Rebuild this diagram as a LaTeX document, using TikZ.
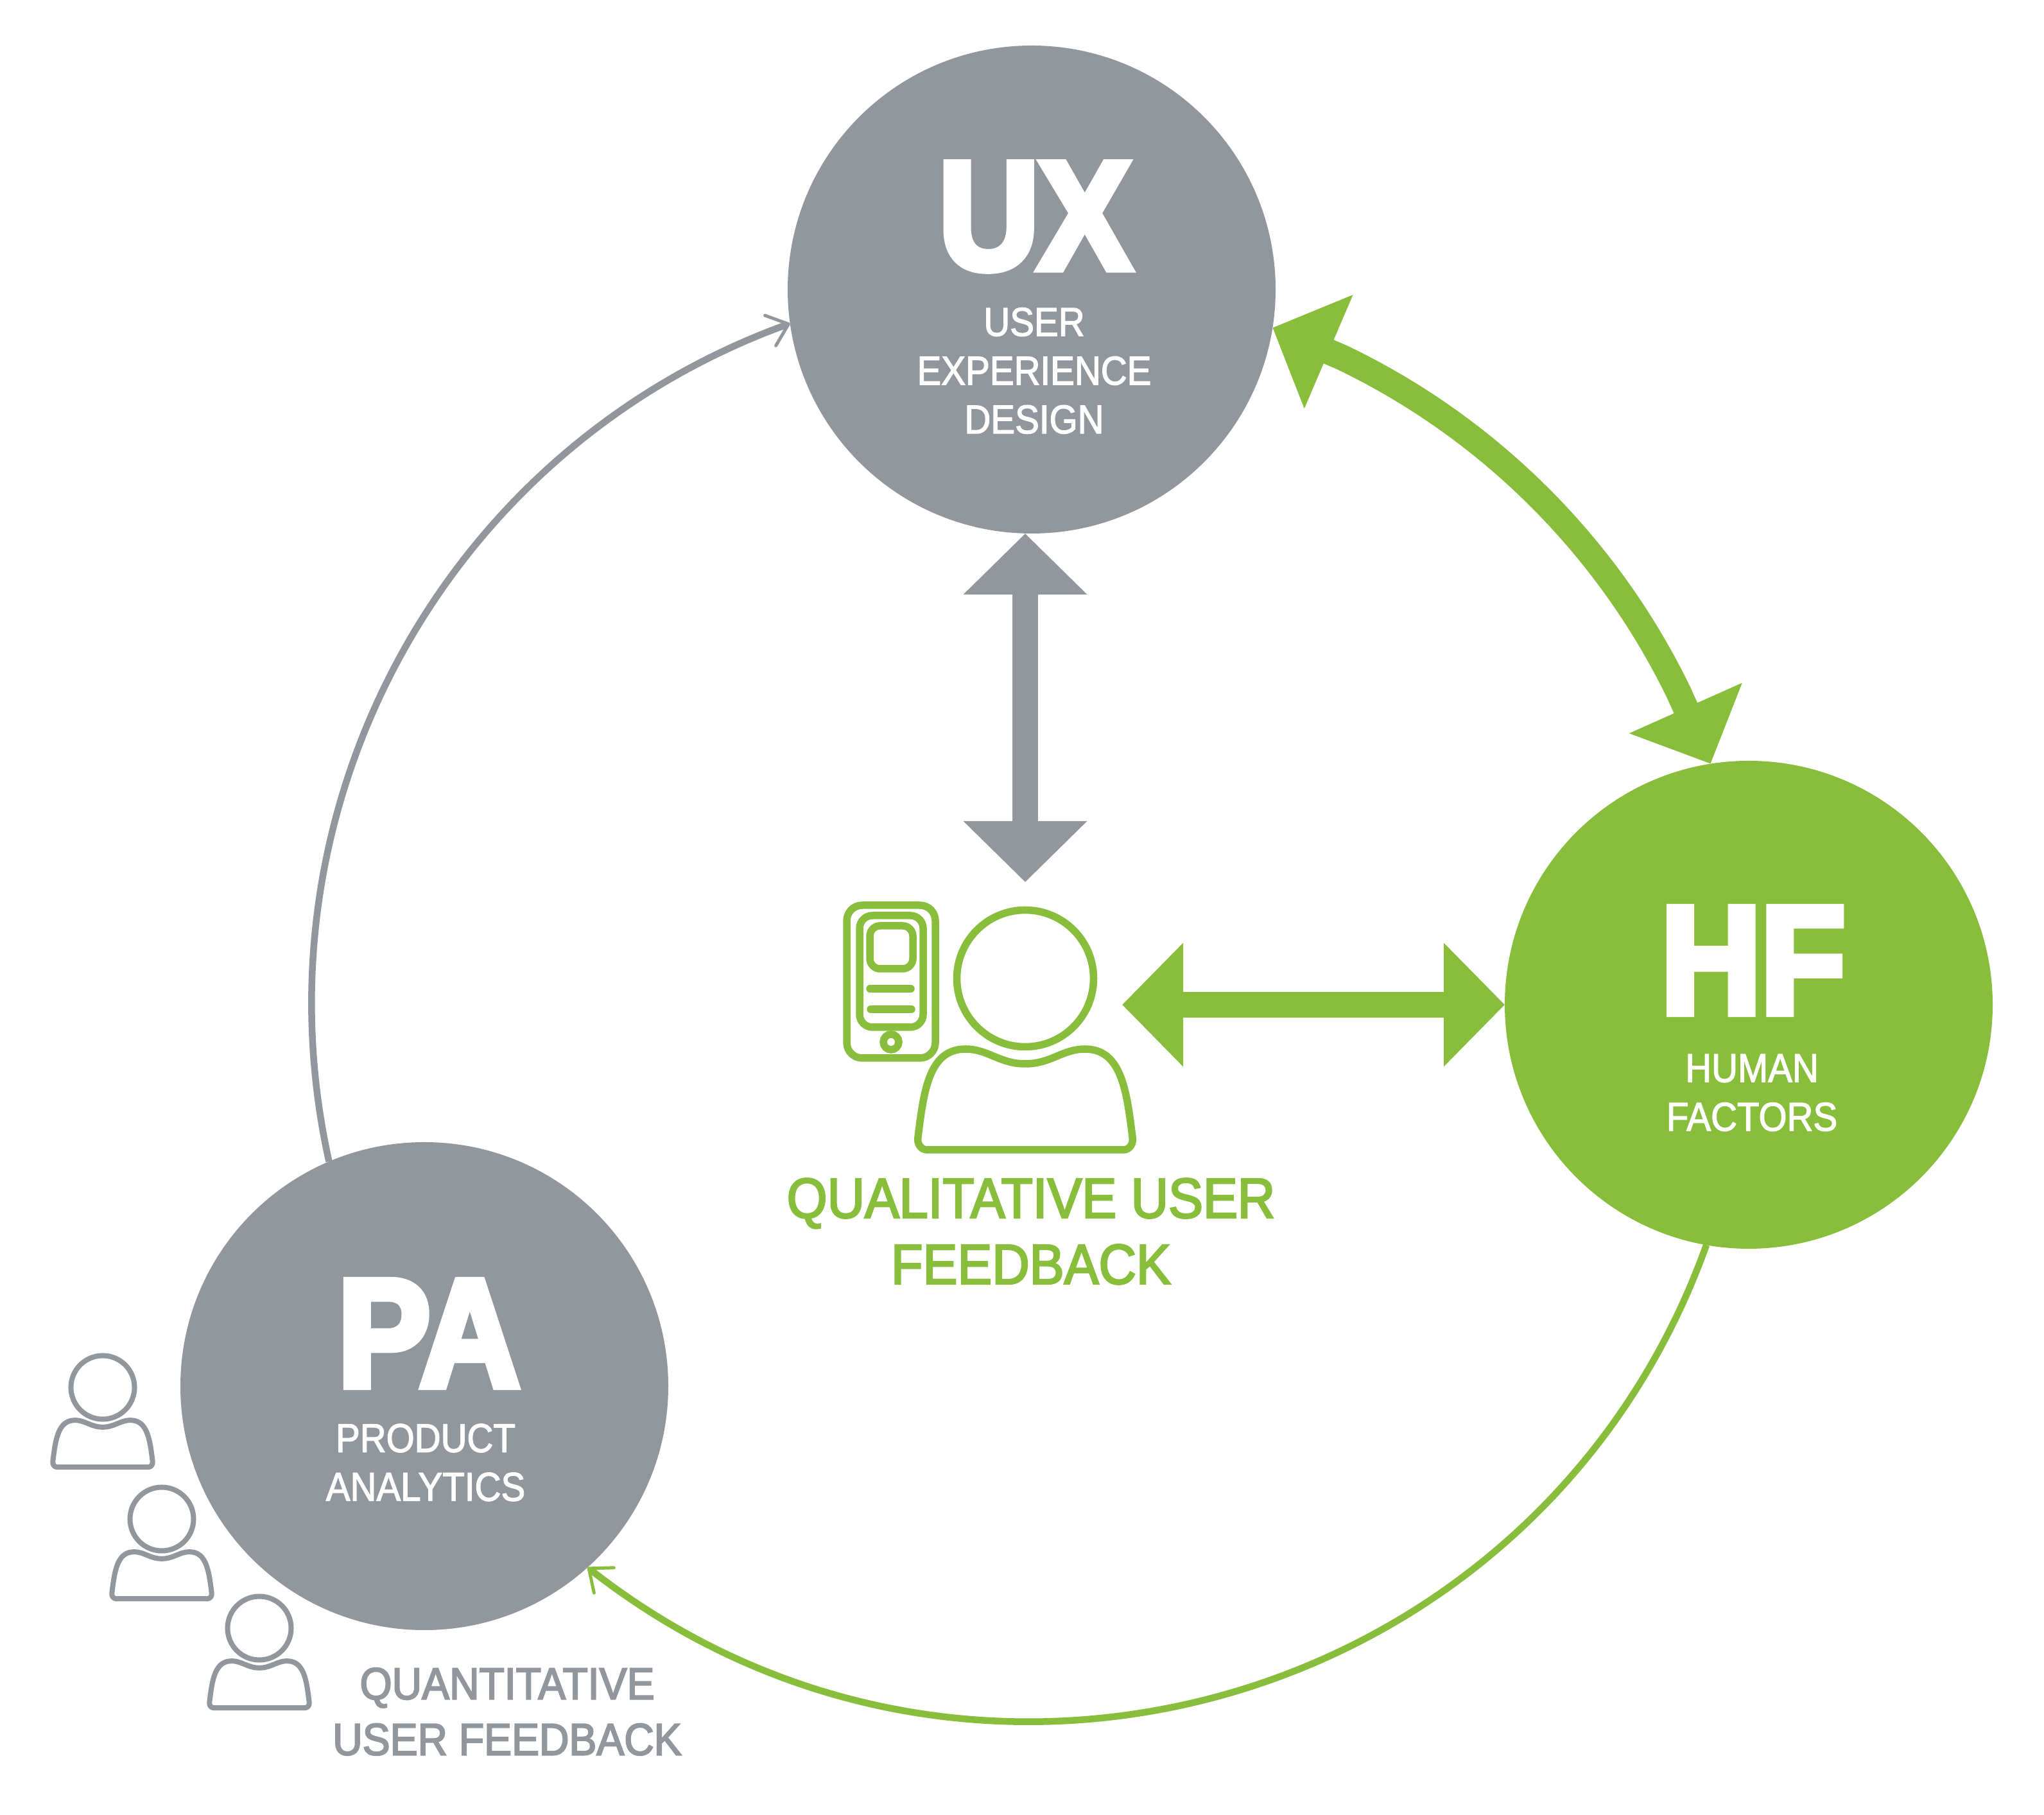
\documentclass[tikz,border=0pt]{standalone}
\usepackage{fontspec}
\setmainfont{Liberation Sans}[FakeStretch=0.9,FakeBold=2]
\newfontfamily\midfont{Liberation Sans}[FakeStretch=0.92,FakeBold=3]
\newfontfamily\heavyfont{Liberation Sans Bold}[FakeStretch=0.9,FakeBold=5]
\usetikzlibrary{arrows.meta}
\definecolor{usrgray}{RGB}{146,151,157}
\definecolor{usrgreen}{RGB}{136,190,60}
\tikzset{
    bigcircle/.style={circle,minimum size=7.6cm,inner sep=0pt,outer sep=0pt},
    bigtitle/.style={text=white,font=\heavyfont\fontsize{68}{68}\selectfont},
    subtitle/.style={text=white,align=center,inner sep=0pt,font=\fontsize{17.9}{21.6}\selectfont},
    widelink/.style={line width=.4cm,line join=round,{Triangle[length=.95cm,width=1.87cm]}-{Triangle[length=.95cm,width=1.87cm]}},
    thinlink/.style={line width=.105cm,-{Straight Barb[length=.3cm,width=.5cm,line width=.05cm,round]}},
    person/.pic={
        \draw (0,0) circle (1.065);
        \draw[line join=round] (-1.53,-2.67) .. controls (-1.62,-2.67) and (-1.69,-2.58) .. (-1.67,-2.47)
            .. controls (-1.58,-1.75) and (-1.50,-1.10) .. (-.93,-1.10)
            .. controls (-.58,-1.10) and (-.40,-1.33) .. (0,-1.33)
            .. controls (.40,-1.33) and (.58,-1.10) .. (.93,-1.10)
            .. controls (1.50,-1.10) and (1.58,-1.75) .. (1.67,-2.47)
            .. controls (1.69,-2.58) and (1.62,-2.67) .. (1.53,-2.67) -- cycle;
    }
}
\begin{document}
\begin{tikzpicture}
    \useasboundingbox (0,0) rectangle (31.84,28.26);
    \node[bigcircle,fill=usrgray] (ux) at (16.07,23.75) {};
    \node[bigcircle,fill=usrgreen] (hf) at (27.24,12.61) {};
    \node[bigcircle,fill=usrgray] (pa) at (6.61,6.67) {};
    \node[bigtitle] (uxtitle) at (16.12,24.885) {UX};
    \node[subtitle] (uxtext) at (16.11,22.485) {USER\\EXPERIENCE\\DESIGN};
    \node[bigtitle] (hftitle) at (27.31,13.30) {HF};
    \node[subtitle] (hftext) at (27.29,11.24) {HUMAN\\FACTORS};
    \node[bigtitle] (patitle) at (6.68,7.49) {PA};
    \node[subtitle] (patext) at (6.63,5.48) {PRODUCT\\ANALYTICS};
    \coordinate (ring) at (16.07,12.59);
    \coordinate (usertop) at (15.97,14.52);
    \coordinate (userright) at (17.48,12.61);
    \draw[widelink,usrgreen] (ux.-9) -- ([shift={(64.5:11.2)}]ring)
        to[bend left=19.4,looseness=.876] ([shift={(25.7:11.2)}]ring) -- (hf.99.3);
    \draw[widelink,usrgray] (usertop |- ux.south) -- (usertop);
    \draw[widelink,usrgreen] (userright) -- (hf.west);
    \draw[thinlink,usrgray] (pa.113.5) to[bend left=41.35,looseness=.978] (ux.188.6);
    \draw[thinlink,usrgreen] (hf.260.9) to[bend left=54.25,looseness=1.075] (pa.-48.7);
    \begin{scope}[usrgreen,line width=.115cm]
        \pic at (15.97,13.02) {person};
        \draw[rounded corners=.24cm] (13.19,14.16) rectangle (14.57,11.78);
        \draw[rounded corners=.2cm] (13.39,14.00) rectangle (14.38,12.26);
        \draw[rounded corners=.16cm] (13.55,13.17) rectangle (14.22,13.84);
        \draw[line cap=round] (13.55,12.86) -- (14.19,12.86);
        \draw[line cap=round] (13.56,12.54) -- (14.20,12.54);
        \draw (13.88,12.03) circle (.12);
    \end{scope}
    \begin{scope}[usrgray,line width=.08cm]
        \pic[scale=.465] at (1.60,6.65) {person};
        \pic[scale=.465] at (2.52,4.60) {person};
        \pic[scale=.465] at (4.04,2.90) {person};
    \end{scope}
    \node[text=usrgreen,align=center,inner sep=0pt,font=\midfont\fontsize{25}{29.3}\selectfont] (qualtext) at (16.06,9.08) {QUALITATIVE USER\\FEEDBACK};
    \node[text=usrgray,align=center,inner sep=0pt,font=\midfont\fontsize{19.9}{24.7}\selectfont] (quanttext) at (7.90,1.60) {QUANTITATIVE\\USER FEEDBACK};
\end{tikzpicture}
\end{document}
